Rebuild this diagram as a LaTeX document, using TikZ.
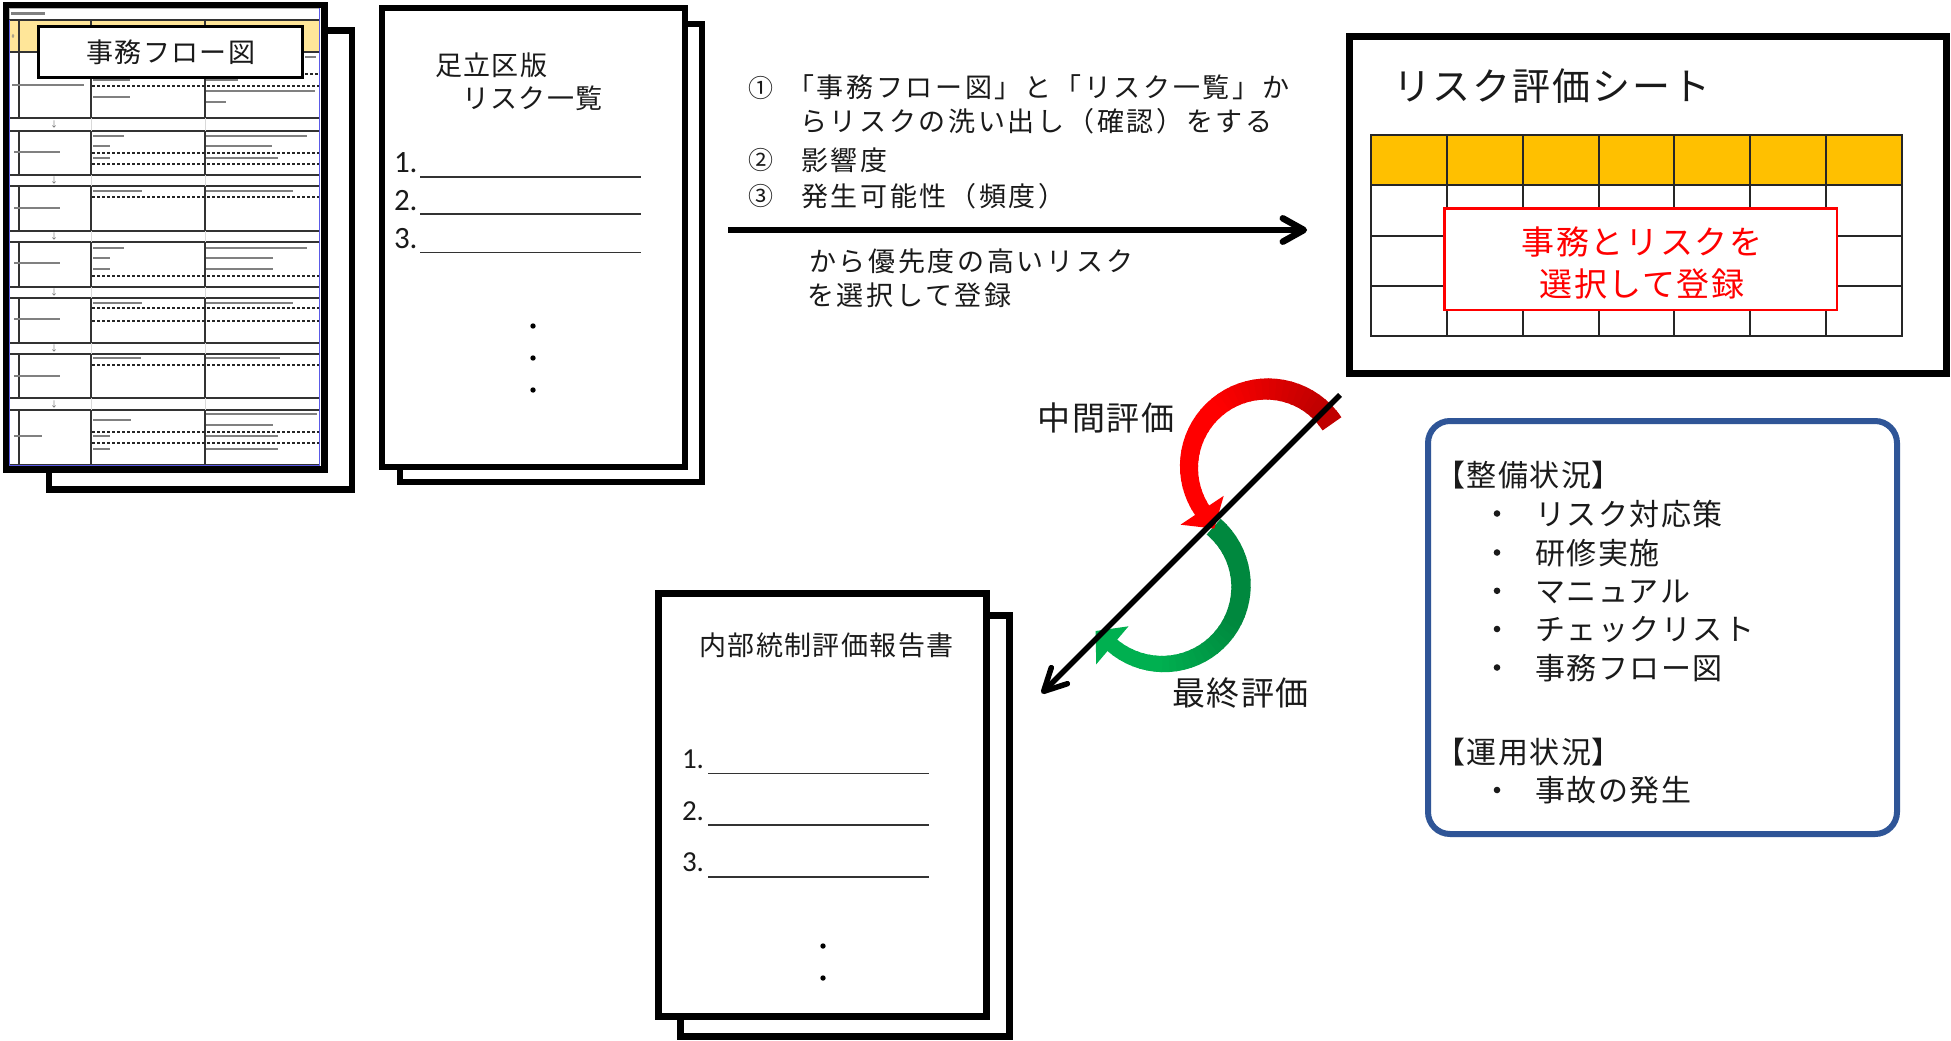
\documentclass[tikz,border=0pt]{standalone}
\usepackage{fontspec}
\usetikzlibrary{calc}
\newfontfamily\jp{Noto Sans CJK JP}
\newfontfamily\jpwide[LetterSpace=10]{Noto Sans CJK JP}
\newfontfamily\jpls[LetterSpace=5]{Noto Sans CJK JP}
\newfontfamily\jppalt[LetterSpace=5,RawFeature=+palt]{Noto Sans CJK JP}
\newfontfamily\numfont{Carlito}
\definecolor{hdrY}{HTML}{FFC000}
\definecolor{hdrLY}{HTML}{FFE699}
\definecolor{boxblue}{HTML}{2F5597}
\definecolor{dred}{HTML}{C00000}
\definecolor{bred}{HTML}{FF0000}
\definecolor{dgreen}{HTML}{00883E}
\definecolor{bgreen}{HTML}{00B050}
\definecolor{txt}{HTML}{1A1A1A}
\definecolor{tblue}{HTML}{5A5AE6}
\tikzset{
  doc/.style={draw=black, fill=white, line width=6.5pt, inner sep=0pt, outer sep=0pt},
  lbl/.style={inner sep=0pt, outer sep=0pt, text=txt},
  grid/.style={draw=black!85, line width=2pt, line cap=rect},
  tline/.style={draw=black!80, line width=1.2pt},
  dline/.style={draw=black!85, line width=1.2pt, dash pattern=on 3pt off 2pt},
  tbar/.style={draw=black!50, line width=2.4pt},
  uline/.style={draw=black!80, line width=1.6pt},
  bigarrow/.style={draw=black, line width=6.5pt},
  barb/.style={draw=black, line width=6.5pt, line cap=round, line join=round},
}
\begin{document}
\begin{tikzpicture}[x=1pt,y=-1pt]
\useasboundingbox (0,0) rectangle (1951,1041);
\fill[white] (0,0) rectangle (1951,1041);

% ---------- document 1 : flow chart ----------
\node[doc, minimum width=303pt, minimum height=459pt] (flowback) at (200.5,260) {};
\node[doc, minimum width=318.7pt, minimum height=464.5pt] (flowdoc) at (165.35,237.25) {};
\draw[black!30, line width=0.8pt, fill=white] (9,8) rectangle (319,20);
\draw[tbar] (11,13.5) -- (45,13.5);
\fill[hdrLY] (9,20) rectangle (319,52);
\node[lbl, font=\numfont\fontsize{6}{6}\selectfont, text=black!50] (hash) at (13,36) {\#};
\draw[tline] (9,20) -- (319,20) (9,52) -- (319,52) (19,20) -- (19,52) (91,20) -- (91,52) (205,20) -- (205,52);
\foreach \a/\b in {52/118,131/175,186/231,242/287,298/343,354/398,410/465} {
  \draw[tline] (9,\a) -- (319,\a) (9,\b) -- (319,\b) (19,\a) -- (19,\b) (91,\a) -- (91,\b) (205,\a) -- (205,\b);
}
\foreach \a/\b in {118/131,175/186,231/242,287/298,343/354,398/410} {
  \draw[black!15, line width=1pt] (91,\a) -- (91,\b) (205,\a) -- (205,\b);
  \node[lbl, font=\jp\fontsize{8}{8}\selectfont, text=black!60] (down\a) at (54,{(\a+\b)/2}) {↓};
}
\draw[tblue, line width=1pt] (9,20) -- (9,465) -- (319,465) -- (319,8);
% dashed lines
\draw[dline] (205,74) -- (319,74) (92,86) -- (319,86);
\draw[dline] (92,153) -- (319,153) (92,164) -- (319,164);
\draw[dline] (92,197) -- (319,197);
\draw[dline] (92,276) -- (319,276);
\draw[dline] (92,308) -- (319,308) (92,321) -- (319,321);
\draw[dline] (92,365) -- (319,365);
\draw[dline] (92,432) -- (319,432) (92,443) -- (319,443);
% tiny illegible cell writing
\draw[tbar] (12,85) -- (84,85) (14,152) -- (60,152) (14,208) -- (60,208) (14,263) -- (60,263)
  (14,319) -- (60,319) (14,376) -- (60,376) (14,436) -- (42,436);
\draw[tbar] (93,80) -- (130,80) (93,97) -- (130,97) (206,80) -- (238,80) (206,91) -- (315,91) (206,102) -- (226,102) (305,57) -- (316,57);
\draw[tbar] (93,136) -- (124,136) (93,146) -- (110,146) (93,158) -- (110,158) (206,136) -- (307,136) (206,146) -- (272,146) (206,158) -- (278,158);
\draw[tbar] (93,191) -- (142,191) (206,191) -- (293,191);
\draw[tbar] (93,248) -- (124,248) (93,258) -- (110,258) (93,269) -- (110,269) (206,248) -- (307,248) (206,258) -- (273,258) (206,269) -- (273,269);
\draw[tbar] (93,303) -- (142,303) (206,303) -- (293,303);
\draw[tbar] (93,358) -- (141,358) (206,358) -- (280,358);
\draw[tbar] (93,420) -- (131,420) (93,436) -- (110,436) (93,449) -- (110,449) (206,414) -- (317,414) (206,425) -- (273,425) (206,436) -- (278,436) (206,449) -- (278,449);
\node[draw=black, line width=3pt, fill=white, minimum width=264pt, minimum height=51pt, inner sep=0pt] (flowlbl) at (170.5,52) {};
\node[lbl, anchor=base, font=\jpls\fontsize{27}{27}\selectfont] (flowtitle) at (171,62.3) {事務フロー図};

% ---------- document 2 : risk list ----------
\node[doc, minimum width=302pt, minimum height=458pt] (listback) at (551,253) {};
\node[doc, minimum width=303pt, minimum height=459pt] (listdoc) at (533.5,237.5) {};
\node[lbl, anchor=base west, font=\jpls\fontsize{27}{27}\selectfont] (listt1) at (435,75.3) {足立区版};
\node[lbl, anchor=base west, font=\jpls\fontsize{27}{27}\selectfont] (listt2) at (462,108.3) {リスク一覧};
\node[lbl, anchor=base west, font=\numfont\fontsize{31}{31}\selectfont] (ln1) at (394,172.7) {1.};
\node[lbl, anchor=base west, font=\numfont\fontsize{31}{31}\selectfont] (ln2) at (394,210) {2.};
\node[lbl, anchor=base west, font=\numfont\fontsize{31}{31}\selectfont] (ln3) at (394,248.3) {3.};
\draw[uline] (420,176.7) -- (641,176.7) (420,214) -- (641,214) (420,252.3) -- (641,252.3);
\fill[black] (533,326) circle[radius=2.7] (533,358) circle[radius=2.7] (533,390) circle[radius=2.7];

% ---------- document 3 : report ----------
\node[doc, minimum width=329pt, minimum height=421pt] (repback) at (845,826) {};
\node[doc, minimum width=328pt, minimum height=423pt] (repdoc) at (822.5,805) {};
\node[lbl, anchor=base, font=\jpls\fontsize{27}{27}\selectfont] (reptitle) at (826.5,655.3) {内部統制評価報告書};
\node[lbl, anchor=base west, font=\numfont\fontsize{29}{29}\selectfont] (rn1) at (682,768.3) {1.};
\node[lbl, anchor=base west, font=\numfont\fontsize{29}{29}\selectfont] (rn2) at (682,820) {2.};
\node[lbl, anchor=base west, font=\numfont\fontsize{29}{29}\selectfont] (rn3) at (682,871.7) {3.};
\draw[uline] (708,773.3) -- (929,773.3) (708,825) -- (929,825) (708,876.7) -- (929,876.7);
\fill[black] (823,946) circle[radius=2.7] (823,978) circle[radius=2.7];

% ---------- risk evaluation sheet ----------
\node[draw=black, fill=white, line width=7pt, minimum width=597pt, minimum height=337pt, inner sep=0pt] (sheet) at (1648,205) {};
\node[lbl, anchor=base west, font=\jpls\fontsize{38}{38}\selectfont] (sheettitle) at (1393,100.4) {リスク評価シート};
\fill[hdrY] (1371,135) rectangle (1902,185);
\foreach \i in {0,...,7} \draw[grid] ({1371+75.857*\i},135) -- ({1371+75.857*\i},336);
\foreach \y in {135,185,236,286,336} \draw[grid] (1371,\y) -- (1902,\y);
\node[draw=bred, line width=2.5pt, fill=white, minimum width=392.5pt, minimum height=101.5pt, inner sep=0pt] (pick) at (1640.5,259) {};
\node[lbl, anchor=base, text=bred, font=\jpls\fontsize{33}{33}\selectfont] (pick1) at (1642,254.5) {事務とリスクを};
\node[lbl, anchor=base, text=bred, font=\jpls\fontsize{33}{33}\selectfont] (pick2) at (1642,296.5) {選択して登録};

% ---------- top instructions and arrow ----------
\node[lbl, anchor=base, font=\jp\fontsize{25}{25}\selectfont] (c1) at (761,97) {①};
\node[lbl, anchor=base west, font=\jpwide\fontsize{27}{27}\selectfont] (s1) at (787,97.8) {「事務フロー図」と「リスク一覧」か};
\node[lbl, anchor=base west, font=\jpwide\fontsize{27}{27}\selectfont] (s2) at (800,131.8) {らリスクの洗い出し（確認）をする};
\node[lbl, anchor=base, font=\jp\fontsize{25}{25}\selectfont] (c2) at (761,169.5) {②};
\node[lbl, anchor=base west, font=\jpwide\fontsize{27}{27}\selectfont] (s3) at (801,170.2) {影響度};
\node[lbl, anchor=base, font=\jp\fontsize{25}{25}\selectfont] (c3) at (761,205.5) {③};
\node[lbl, anchor=base west, font=\jpwide\fontsize{27}{27}\selectfont] (s4) at (801,206.2) {発生可能性（頻度）};
\node[lbl, anchor=base west, font=\jpwide\fontsize{27}{27}\selectfont] (s5) at (809,271.2) {から優先度の高いリスク};
\node[lbl, anchor=base west, font=\jpwide\fontsize{27}{27}\selectfont] (s6) at (807,305.2) {を選択して登録};
\coordinate (hs) at (728,230);
\coordinate (he) at (1302,230);
\coordinate (htip) at (1303.8,230);
\draw[bigarrow] (hs) -- (he);
\draw[barb] ($(htip)+(-21,-11.7)$) -- (htip) -- ($(htip)+(-21,11.7)$);

% ---------- S-shaped evaluation arrows ----------
\coordinate (gc) at (1163,586);
\coordinate (rc) at (1267,467);
\foreach \k in {0,...,35} {
  \pgfmathsetmacro{\aS}{-49.5+5*\k}
  \pgfmathsetmacro{\aE}{\aS+6}
  \pgfmathsetmacro{\pc}{max(0,min(100,(\k/35-0.42)/0.38*100))}
  \pgfmathsetmacro{\lw}{21-6*\k/35}
  \draw[line width=\lw pt, color=bgreen!\pc!dgreen] (gc) ++(\aS:78) arc[start angle=\aS, end angle=\aE, radius=78];
}
\fill[bgreen] (1128.5,626.3) -- (1095.6,631) -- (1096.2,664.3) -- cycle;
\foreach \k in {0,...,35} {
  \pgfmathsetmacro{\aS}{-33.6-5.0028*\k}
  \pgfmathsetmacro{\aE}{\aS-6}
  \pgfmathsetmacro{\pc}{max(0,min(100,(\k/35-0.08)/0.45*100))}
  \pgfmathsetmacro{\lw}{23-6*\k/35}
  \draw[line width=\lw pt, color=bred!\pc!dred] (rc) ++(\aS:78) arc[start angle=\aS, end angle=\aE, radius=78];
}
\fill[bred] (1223.7,495.8) -- (1214.3,528.6) -- (1180.5,524.7) -- cycle;
\coordinate (ds) at (1340,395);
\coordinate (dtip) at (1043.6,691.4);
\draw[line width=5.5pt] (ds) -- ($(dtip)+(1.5,-1.5)$);
\draw[barb, line width=5.5pt] ($(dtip)+(23.8,-7.7)$) -- (dtip) -- ($(dtip)+(7.7,-23.8)$);
\node[lbl, anchor=base, font=\jpls\fontsize{33}{33}\selectfont] (mid) at (1106,430.5) {中間評価};
\node[lbl, anchor=base, font=\jpls\fontsize{33}{33}\selectfont] (fin) at (1240.5,705.5) {最終評価};

% ---------- status box ----------
\node[draw=boxblue, fill=white, line width=6pt, rounded corners=22pt, minimum width=469pt, minimum height=413pt, inner sep=0pt] (status) at (1662.5,627.5) {};
\node[lbl, anchor=base west, font=\jppalt\fontsize{30}{30}\selectfont] (h1) at (1450,486.4) {【整備状況】};
\node[lbl, anchor=base west, font=\jpls\fontsize{30}{30}\selectfont] (i1) at (1535,525) {リスク対応策};
\node[lbl, anchor=base west, font=\jpls\fontsize{30}{30}\selectfont] (i2) at (1535,564) {研修実施};
\node[lbl, anchor=base west, font=\jpls\fontsize{30}{30}\selectfont] (i3) at (1535,602) {マニュアル};
\node[lbl, anchor=base west, font=\jpls\fontsize{30}{30}\selectfont] (i4) at (1535,640.4) {チェックリスト};
\node[lbl, anchor=base west, font=\jpls\fontsize{30}{30}\selectfont] (i5) at (1535,679) {事務フロー図};
\node[lbl, anchor=base west, font=\jppalt\fontsize{30}{30}\selectfont] (h2) at (1450,763) {【運用状況】};
\node[lbl, anchor=base west, font=\jpls\fontsize{30}{30}\selectfont] (i6) at (1535,801.4) {事故の発生};
\fill[txt] (1497,513.5) circle[radius=3.3] (1497,552.5) circle[radius=3.3] (1497,590.8) circle[radius=3.3]
  (1497,629) circle[radius=3.3] (1497,667.5) circle[radius=3.3] (1497,790) circle[radius=3.3];
\end{tikzpicture}
\end{document}
